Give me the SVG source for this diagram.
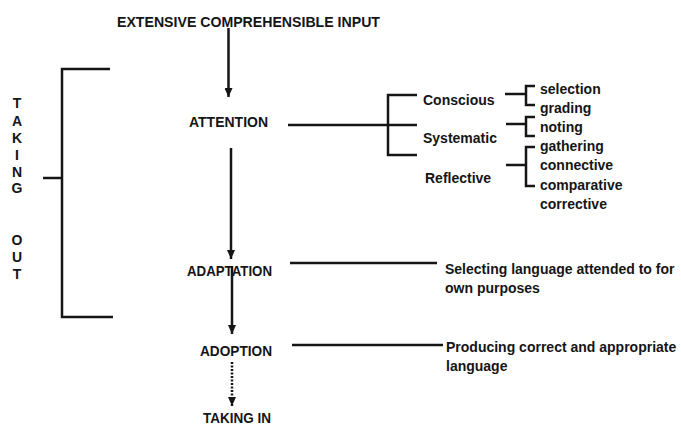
<svg xmlns="http://www.w3.org/2000/svg" width="681" height="425" viewBox="0 0 681 425">
<style>
text{font-family:"Liberation Sans",Arial,sans-serif;font-weight:bold;fill:#151515;font-size:14px}
.cap{font-size:15px}
.ln{stroke:#151515;stroke-width:2.5;fill:none}
.arr{stroke:#151515;stroke-width:2.5;fill:none;marker-end:url(#ah)}
.dot{stroke:#151515;stroke-width:2.5;fill:none;stroke-dasharray:2 1.5;marker-end:url(#ah)}
</style>
<defs>
<marker id="ah" markerUnits="userSpaceOnUse" markerWidth="9" markerHeight="8" refX="9" refY="4" orient="auto" viewBox="0 0 9 8">
<path d="M0,0 L9,4 L0,8 Z" fill="#151515"/>
</marker>
</defs>
<rect width="681" height="425" fill="#fff"/>
<g id="connectors">
<line class="arr" x1="228.5" y1="28" x2="228.5" y2="97"/>
<line class="arr" x1="231" y1="148" x2="231" y2="259"/>
<line class="arr" x1="232" y1="266" x2="232" y2="334"/>
<line class="dot" x1="232" y1="362" x2="232" y2="406"/>
<polyline class="ln" points="110,69 62,69 62,317 113,317"/>
<line class="ln" x1="43" y1="178" x2="62" y2="178"/>
<line class="ln" x1="288" y1="125" x2="417" y2="125"/>
<polyline class="ln" points="417,95 388,95 388,155 417,155"/>
<line class="ln" x1="505" y1="94" x2="526" y2="94"/>
<polyline class="ln" points="535,86 526,86 526,105 535,105"/>
<line class="ln" x1="506" y1="124" x2="526" y2="124"/>
<polyline class="ln" points="535,117 526,117 526,136 535,136"/>
<line class="ln" x1="506" y1="165" x2="526" y2="165"/>
<polyline class="ln" points="535,147 526,147 526,186 535,186"/>
<line class="ln" x1="290" y1="263" x2="437" y2="263"/>
<line class="ln" x1="292" y1="345" x2="443" y2="345"/>
</g>
<g id="input"><text class="cap" x="117" y="27" textLength="263" lengthAdjust="spacingAndGlyphs">EXTENSIVE COMPREHENSIBLE INPUT</text></g>
<g id="taking-out" text-anchor="middle">
<text x="17" y="108">T</text><text x="17" y="126">A</text><text x="17" y="143">K</text><text x="17" y="160">I</text><text x="17" y="177">N</text><text x="17" y="193">G</text>
<text x="17" y="245">O</text><text x="17" y="262">U</text><text x="17" y="279">T</text>
</g>
<g id="attention"><text class="cap" x="189" y="127" textLength="79" lengthAdjust="spacingAndGlyphs">ATTENTION</text></g>
<g id="conscious"><text x="423" y="105">Conscious</text></g>
<g id="systematic"><text x="423" y="143">Systematic</text></g>
<g id="reflective"><text x="425" y="183">Reflective</text></g>
<g id="conscious-items"><text x="540" y="94">selection</text><text x="540" y="113">grading</text></g>
<g id="systematic-items"><text x="540" y="132">noting</text></g>
<g id="reflective-items"><text x="540" y="151">gathering</text><text x="540" y="170">connective</text><text x="540" y="190">comparative</text><text x="540" y="209">corrective</text></g>
<g id="adaptation"><text class="cap" x="187" y="276" textLength="85" lengthAdjust="spacingAndGlyphs">ADAPTATION</text></g>
<g id="adaptation-desc"><text x="445" y="274">Selecting language attended to for</text><text x="445" y="293">own purposes</text></g>
<g id="adoption"><text class="cap" x="200" y="356" textLength="72" lengthAdjust="spacingAndGlyphs">ADOPTION</text></g>
<g id="adoption-desc"><text x="446" y="352">Producing correct and appropriate</text><text x="446" y="371">language</text></g>
<g id="taking-in"><text class="cap" x="203" y="423" textLength="68" lengthAdjust="spacingAndGlyphs">TAKING IN</text></g>
</svg>
